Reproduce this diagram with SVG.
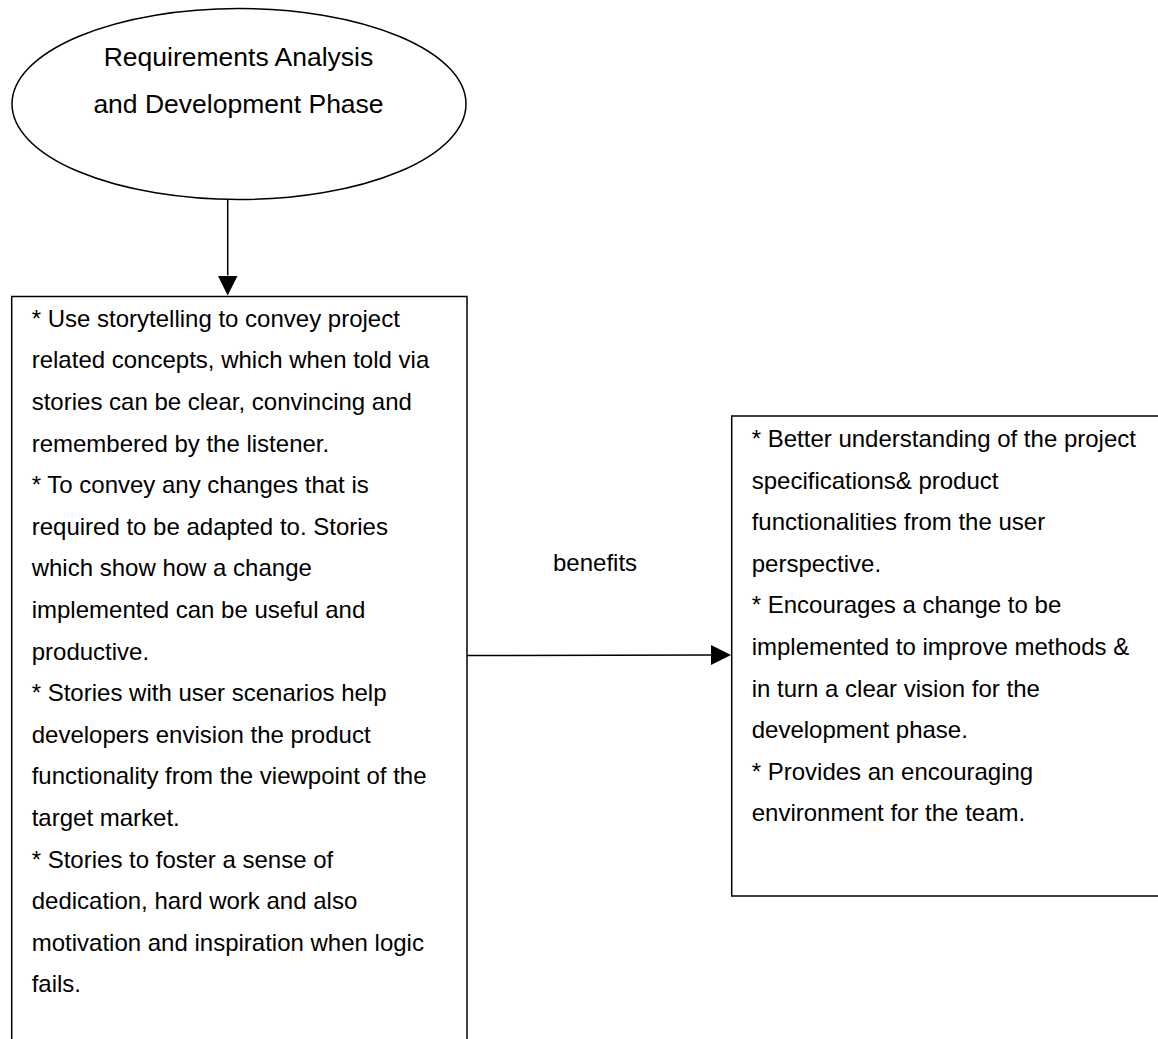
<svg xmlns="http://www.w3.org/2000/svg" width="1158" height="1039" viewBox="0 0 1158 1039">
  <style>
    .shape { fill: #ffffff; stroke: #000000; stroke-width: 1.5; }
    .link { fill: none; stroke: #000000; stroke-width: 1.5; }
    .txt { font-family: "Liberation Sans", Arial, sans-serif; font-size: 24px; fill: #000000; }
    .title { font-family: "Liberation Sans", Arial, sans-serif; font-size: 26.5px; fill: #000000; text-anchor: middle; }
  </style>
  <defs>
    <marker id="arrow" viewBox="0 0 20 20" refX="0" refY="10" markerWidth="20" markerHeight="20" markerUnits="userSpaceOnUse" orient="auto">
      <path d="M0,0 L20,10 L0,20 z" fill="#000000"/>
    </marker>
  </defs>
  <rect width="1158" height="1039" fill="#ffffff"/>

  <!-- phase ellipse -->
  <g id="phase">
    <ellipse class="shape" cx="239" cy="104" rx="227" ry="95.5"/>
    <text class="title" x="238.5" y="66">Requirements Analysis</text>
    <text class="title" x="238.5" y="113">and Development Phase</text>
  </g>

  <!-- storytelling uses -->
  <g id="uses">
    <rect class="shape" x="11.7" y="296.5" width="455.3" height="760"/>
    <text class="txt" x="31.7" y="326.7">
      <tspan x="31.7">* Use storytelling to convey project</tspan>
      <tspan x="31.7" dy="41.6">related concepts, which when told via</tspan>
      <tspan x="31.7" dy="41.6">stories can be clear, convincing and</tspan>
      <tspan x="31.7" dy="41.6">remembered by the listener.</tspan>
      <tspan x="31.7" dy="41.6">* To convey any changes that is</tspan>
      <tspan x="31.7" dy="41.6">required to be adapted to. Stories</tspan>
      <tspan x="31.7" dy="41.6">which show how a change</tspan>
      <tspan x="31.7" dy="41.6">implemented can be useful and</tspan>
      <tspan x="31.7" dy="41.6">productive.</tspan>
      <tspan x="31.7" dy="41.6">* Stories with user scenarios help</tspan>
      <tspan x="31.7" dy="41.6">developers envision the product</tspan>
      <tspan x="31.7" dy="41.6">functionality from the viewpoint of the</tspan>
      <tspan x="31.7" dy="41.6">target market.</tspan>
      <tspan x="31.7" dy="41.6">* Stories to foster a sense of</tspan>
      <tspan x="31.7" dy="41.6">dedication, hard work and also</tspan>
      <tspan x="31.7" dy="41.6">motivation and inspiration when logic</tspan>
      <tspan x="31.7" dy="41.6">fails.</tspan>
    </text>
  </g>

  <!-- benefits box -->
  <g id="benefits">
    <rect class="shape" x="731.7" y="416" width="440" height="480"/>
    <text class="txt" x="751.7" y="447">
      <tspan x="751.7">* Better understanding of the project</tspan>
      <tspan x="751.7" dy="41.6">specifications&amp; product</tspan>
      <tspan x="751.7" dy="41.6">functionalities from the user</tspan>
      <tspan x="751.7" dy="41.6">perspective.</tspan>
      <tspan x="751.7" dy="41.6">* Encourages a change to be</tspan>
      <tspan x="751.7" dy="41.6">implemented to improve methods &amp;</tspan>
      <tspan x="751.7" dy="41.6">in turn a clear vision for the</tspan>
      <tspan x="751.7" dy="41.6">development phase.</tspan>
      <tspan x="751.7" dy="41.6">* Provides an encouraging</tspan>
      <tspan x="751.7" dy="41.6">environment for the team.</tspan>
    </text>
  </g>

  <!-- connectors -->
  <g id="connectors">
    <line class="link" x1="227.7" y1="199.5" x2="227.7" y2="275.5" marker-end="url(#arrow)"/>
    <line class="link" x1="467" y1="655.5" x2="711" y2="655" marker-end="url(#arrow)"/>
    <text class="txt" x="553" y="571">benefits</text>
  </g>
</svg>
